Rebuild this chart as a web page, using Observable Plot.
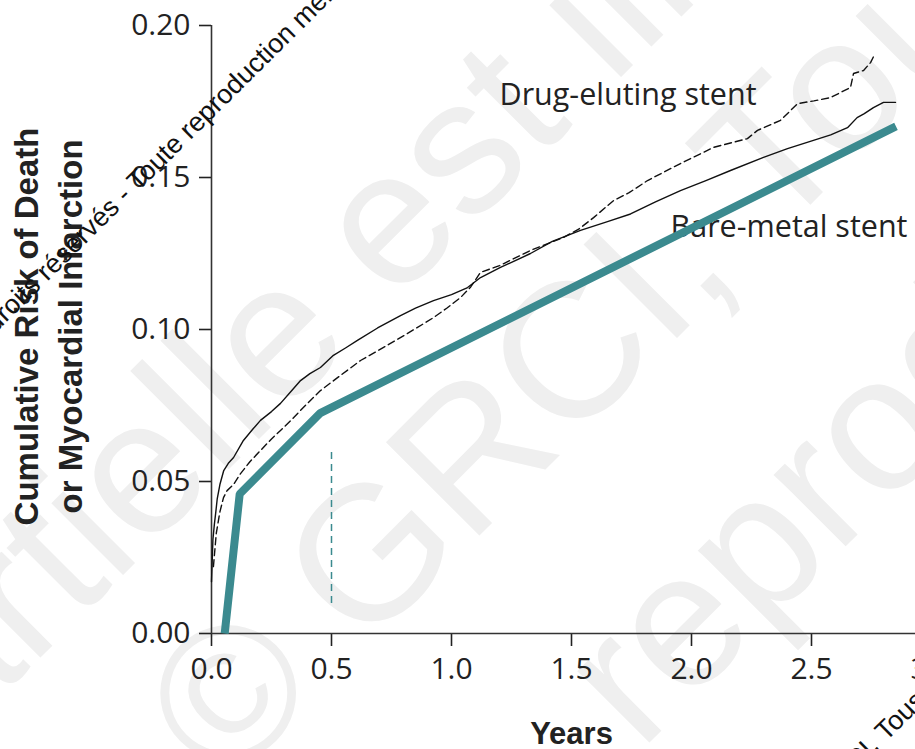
<!DOCTYPE html>
<html>
<head>
<meta charset="utf-8">
<script src="https://cdn.jsdelivr.net/npm/d3@7"></script>
<script src="https://cdn.jsdelivr.net/npm/@observablehq/plot@0.6"></script>
<style>
  html, body { margin: 0; padding: 0; background: #fff; overflow: hidden; }
  #wrap { position: relative; width: 915px; height: 749px; overflow: hidden; background: #fff; }
  #wrap > svg, #chart { position: absolute; left: 0; top: 0; }
  #chart [aria-label$="axis tick"] path, #chart [aria-label$="-axis"] .tick line { stroke-width: 1.6px; }
</style>
</head>
<body>
<div id="wrap"></div>
<script>
// Cumulative risk of death or myocardial infarction, by stent type
const bmsYears = [0.0, 0.003, 0.006, 0.012, 0.018, 0.024, 0.035, 0.051, 0.07, 0.092, 0.133, 0.17, 0.204, 0.25, 0.2875, 0.33, 0.371, 0.41, 0.454, 0.508, 0.56, 0.608, 0.692, 0.7875, 0.85, 0.925, 1.0, 1.067, 1.121, 1.204, 1.329, 1.42, 1.5375, 1.65, 1.746, 1.85, 1.954, 2.06, 2.1625, 2.3, 2.4, 2.508, 2.58, 2.65, 2.69, 2.72, 2.758, 2.8, 2.85];
const bmsRisk  = [0.017, 0.024, 0.031, 0.036, 0.040, 0.0444, 0.049, 0.0536, 0.056, 0.0579, 0.0635, 0.067, 0.0701, 0.073, 0.0757, 0.0795, 0.0832, 0.0855, 0.0875, 0.0915, 0.094, 0.0964, 0.1005, 0.1046, 0.107, 0.1095, 0.1115, 0.1138, 0.1171, 0.1204, 0.125, 0.129, 0.1326, 0.1355, 0.138, 0.142, 0.1457, 0.149, 0.1523, 0.1566, 0.1595, 0.1622, 0.164, 0.1664, 0.1697, 0.171, 0.173, 0.1747, 0.1747];

const desYears = [0.008, 0.02, 0.035, 0.05, 0.065, 0.092, 0.121, 0.16, 0.204, 0.25, 0.2875, 0.33, 0.371, 0.41, 0.454, 0.5375, 0.621, 0.717, 0.817, 0.925, 0.98, 1.0375, 1.08, 1.121, 1.2, 1.329, 1.467, 1.53, 1.592, 1.675, 1.74, 1.817, 1.954, 2.092, 2.233, 2.275, 2.371, 2.442, 2.51, 2.579, 2.6625, 2.675, 2.717, 2.746, 2.76];
const desRisk  = [0.022, 0.033, 0.040, 0.0447, 0.047, 0.049, 0.0526, 0.0565, 0.0602, 0.064, 0.0668, 0.070, 0.0734, 0.0765, 0.0799, 0.0849, 0.0898, 0.0941, 0.0987, 0.1039, 0.107, 0.1105, 0.114, 0.1188, 0.121, 0.126, 0.1303, 0.133, 0.1368, 0.1424, 0.145, 0.149, 0.1546, 0.1599, 0.1628, 0.1655, 0.1688, 0.1743, 0.1752, 0.1763, 0.1796, 0.1842, 0.1852, 0.1878, 0.19];

// Hand-drawn trend sketch over the curves (teal)
const sketchYears = [0.055, 0.1175, 0.453, 2.852];
const sketchRisk  = [0.0, 0.0459, 0.0725, 0.1668];

// Dashed marker at six months
const markerYear = [0.5];
const markerFrom = 0.0099;
const markerTo   = 0.0612;

const yTicks = [0, 0.05, 0.10, 0.15, 0.20];
const xTicks = [0, 0.5, 1.0, 1.5, 2.0, 2.5, 3.0];

const seriesNames  = ["Drug-eluting stent", "Bare-metal stent"];
const labelYears   = [1.2, 1.9125];
const labelRisk    = [0.174, 0.1303];

const yTitle = ["Cumulative Risk of Death", "or Myocardial Infarction"];
const xTitle = "Years";

const teal = "#3b8a8f";
const ink = "#222";

const bms = bmsYears.map((t, i) => ({t, r: bmsRisk[i]}));
const des = desYears.map((t, i) => ({t, r: desRisk[i]}));
const sketch = sketchYears.map((t, i) => ({t, r: sketchRisk[i]}));
const labels = seriesNames.map((name, i) => ({name, t: labelYears[i], r: labelRisk[i]}));

const W = 915, H = 749;
const wrap = document.getElementById("wrap");

// Faint copyright watermark behind the chart
const bg = d3.create("svg").attr("width", W).attr("height", H);
const bigMarks = [
  {text: "partielle est illicite", x: -120, y: 818},
  {text: "© GRCI, Tous droits réservés", x: 225, y: 790},
  {text: "reproduction", x: 640, y: 752}
];
bg.selectAll("text.big").data(bigMarks).join("text")
  .attr("class", "big")
  .attr("transform", d => `translate(${d.x},${d.y}) rotate(-45)`)
  .attr("font-family", "Liberation Sans, Arial, sans-serif")
  .attr("font-size", 192)
  .attr("fill", "#efefef")
  .text(d => d.text);
wrap.append(bg.node());

const chart = Plot.plot({
  width: 935,
  height: 749,
  marginLeft: 211,
  marginRight: 4,
  marginTop: 25,
  marginBottom: 116,
  style: {
    fontFamily: "'Open Sans', sans-serif",
    fontSize: "30px",
    color: ink,
    background: "transparent",
    maxWidth: "none",
    overflow: "visible"
  },
  x: {domain: [0, 3], ticks: xTicks, tickSize: 13, tickPadding: 11, tickFormat: d => d.toFixed(1), label: null},
  y: {domain: [0, 0.2], ticks: yTicks, tickSize: 12, tickPadding: 9, tickFormat: d => d.toFixed(2), label: null},
  marks: [
    Plot.ruleX([0], {stroke: "#333", strokeWidth: 1.6}),
    Plot.ruleY([0], {stroke: "#333", strokeWidth: 1.6}),
    Plot.line(bms, {x: "t", y: "r", stroke: "#111", strokeWidth: 1.4}),
    Plot.line(des, {x: "t", y: "r", stroke: "#111", strokeWidth: 1.4, strokeDasharray: "7,4"}),
    Plot.text(labels, {x: "t", y: "r", text: "name", textAnchor: "start", lineAnchor: "bottom",
      fontSize: 30.5, fontFamily: "'Open Sans', sans-serif", fill: ink}),
    Plot.ruleX(markerYear, {y1: markerFrom, y2: markerTo, stroke: teal, strokeWidth: 1.5, strokeDasharray: "7,5"}),
    Plot.line(sketch, {x: "t", y: "r", stroke: teal, strokeWidth: 8, strokeLinecap: "butt", strokeLinejoin: "miter"}),
    Plot.text([xTitle], {frameAnchor: "bottom", lineAnchor: "bottom", dy: 110,
      fontSize: 31, fontWeight: "bold", fontFamily: "'Liberation Sans', Arial, sans-serif", fill: ink}),
    Plot.text([yTitle[0]], {frameAnchor: "left", rotate: -90, textAnchor: "middle", lineAnchor: "bottom",
      dx: -174, dy: -3, fontSize: 33, fontWeight: "bold", fontFamily: "'Liberation Sans', Arial, sans-serif", fill: ink}),
    Plot.text([yTitle[1]], {frameAnchor: "left", rotate: -90, textAnchor: "middle", lineAnchor: "bottom",
      dx: -130, dy: -3, fontSize: 33, fontWeight: "bold", fontFamily: "'Liberation Sans', Arial, sans-serif", fill: ink})
  ]
});
const holder = document.createElement("div");
holder.id = "chart";
holder.append(chart);
wrap.append(holder);

// Small diagonal copyright notices over the chart
const fg = d3.create("svg").attr("width", W).attr("height", H).style("pointer-events", "none");
const fs = 27, ang = -44.7;
const ux = Math.cos(ang * Math.PI / 180), uy = Math.sin(ang * Math.PI / 180);
const notices = [
  {lead: "© GRCI, Tous droits réservés -", rest: "Toute reproduction même partielle est illicite", x: 138, y: 192},
  {lead: "© GRCI,", rest: "Tous droits réservés - Toute reproduction même partielle est illicite", x: 886, y: 742}
];
for (const n of notices) {
  const gap = 0.278 * fs;
  fg.append("text")
    .attr("transform", `translate(${n.x - gap * ux},${n.y - gap * uy}) rotate(${ang})`)
    .attr("text-anchor", "end")
    .attr("font-family", "Liberation Sans, Arial, sans-serif")
    .attr("font-size", fs).attr("fill", "#111").text(n.lead);
  fg.append("text")
    .attr("transform", `translate(${n.x},${n.y}) rotate(${ang})`)
    .attr("font-family", "Liberation Sans, Arial, sans-serif")
    .attr("font-size", fs).attr("fill", "#111").text(n.rest);
}
wrap.append(fg.node());
</script>
</body>
</html>
